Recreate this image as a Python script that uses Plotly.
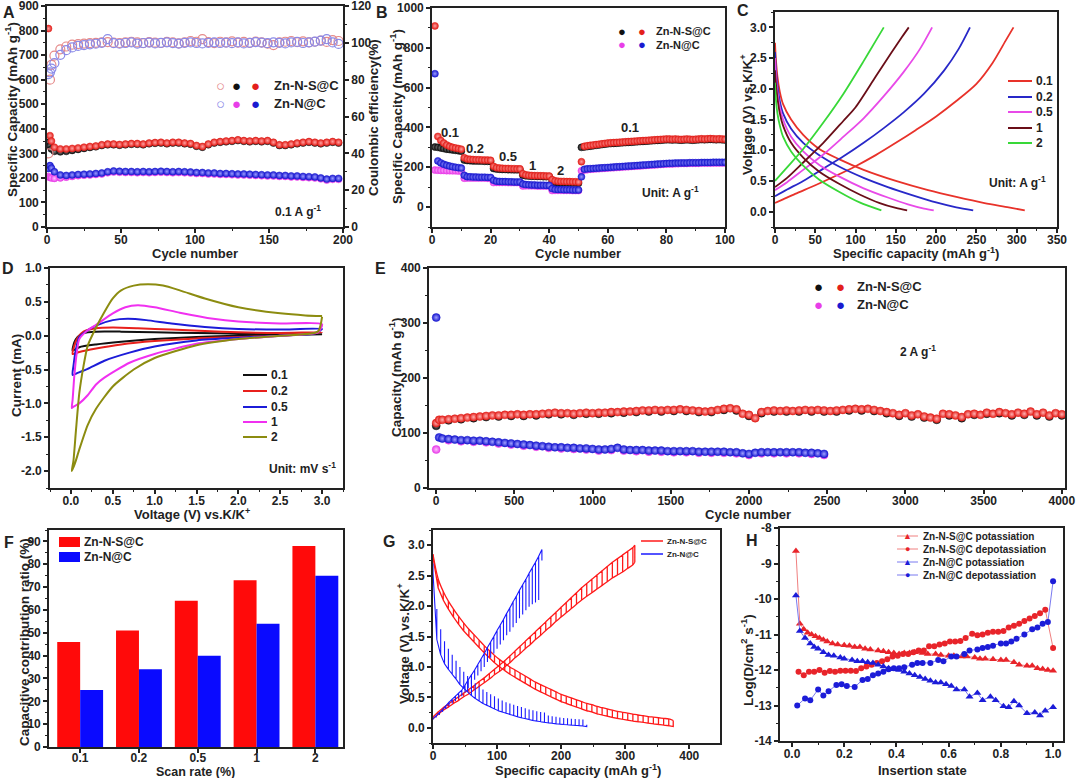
import plotly.graph_objects as go

W, H = 1080, 778
FONT = "Liberation Sans, Arial, sans-serif"
AX = "#222222"

# ---------------- DATA ----------------
# A: cycling at 0.1 A/g
cycA = [1, 2, 3] + list(range(5, 201, 4))
capA_NSC_dis = [808, 372, 350,
                325, 318, 318, 320, 322, 325, 328, 330, 335, 338,
                338, 336, 338, 340, 340, 338, 342, 344, 345, 342,
                345, 345, 342, 340, 332, 328, 338, 345, 348, 350,
                352, 355, 352, 350, 352, 350, 352, 345, 335, 335,
                338, 342, 345, 348, 345, 342, 345, 348, 345]
capA_NSC_chg = [345, 330, 318,
                308, 306, 308, 312, 316, 320, 324, 327, 332, 335,
                335, 333, 335, 337, 337, 335, 339, 341, 342, 339,
                342, 342, 339, 337, 329, 325, 335, 342, 345, 347,
                349, 352, 349, 347, 349, 347, 349, 342, 332, 332,
                335, 339, 342, 345, 342, 339, 342, 345, 342]
capA_NC_dis = [238, 250, 240,
               225, 212, 210, 212, 214, 215, 216, 218, 220, 225,
               228, 227, 226, 226, 225, 226, 225, 226, 227, 226,
               225, 226, 225, 224, 222, 222, 220, 220, 218, 218,
               217, 216, 216, 215, 214, 213, 212, 212, 210, 210,
               208, 208, 206, 205, 204, 200, 195, 198, 198]
capA_NC_chg = [205, 202, 200,
               198, 200, 203, 206, 209, 211, 212, 214, 216, 221,
               224, 223, 222, 222, 221, 222, 221, 222, 223, 222,
               221, 222, 221, 220, 218, 218, 216, 216, 214, 214,
               213, 212, 212, 211, 210, 209, 208, 208, 206, 206,
               204, 204, 202, 201, 200, 196, 191, 194, 194]
ceA_NSC = [40, 80, 88,
           93, 96.5, 98, 99, 99.3, 99.6, 99.8, 100.0, 100.2, 100.4,
           100.1, 99.9, 100.3, 100.6, 100.2, 99.8, 100.4, 100.1, 99.9, 100.5,
           100.2, 99.7, 100.3, 101.0, 100.6, 102.0, 100.4, 99.8, 100.6, 100.2,
           100.8, 100.1, 100.5, 100.0, 100.7, 100.3, 99.6, 98.8, 100.2, 100.6,
           101.0, 100.4, 100.8, 100.2, 100.6, 101.2, 100.5, 101.5, 101.0]
ceA_NC = [83, 84, 86,
          89, 93.5, 96, 97.5, 98.3, 98.8, 99.2, 99.5, 100.0, 102.0,
          99.8, 99.5, 99.9, 100.2, 99.6, 99.9, 100.1, 99.7, 100.0, 100.3,
          99.8, 99.6, 100.0, 100.2, 99.9, 99.7, 100.0, 100.3, 99.9, 100.1,
          99.8, 100.2, 99.7, 100.0, 100.4, 100.1, 99.8, 100.3, 100.0, 99.7,
          100.2, 100.5, 99.9, 100.3, 100.7, 101.2, 102.0, 100.2, 99.4]

# B: rate performance
cycB = list(range(1, 101))
capB_NSC_dis = [910, 355, 335, 322, 312, 305, 300, 297, 294, 291,
                248, 242, 240, 239, 238, 238, 237, 236, 236, 235,
                205, 198, 196, 195, 194, 194, 193, 193, 192, 192,
                168, 162, 160, 159, 158, 158, 157, 157, 156, 156,
                138, 132, 130, 129, 129, 128, 128, 127, 127, 126,
                228, 305, 308, 310, 312, 314, 316, 318, 320, 322,
                323, 324, 325, 326, 327, 328, 329, 330, 331, 332,
                333, 334, 335, 336, 337, 338, 339, 340, 341, 342,
                342, 341, 342, 341, 340, 341, 342, 341, 340, 341,
                342, 343, 342, 343, 344, 343, 342, 343, 342, 341]
capB_NSC_chg = [302, 300, 297, 294, 291, 289, 287, 285, 283, 281,
                236, 234, 233, 232, 232, 231, 231, 230, 230, 229,
                194, 191, 190, 189, 189, 188, 188, 187, 187, 187,
                160, 157, 156, 155, 155, 154, 154, 153, 153, 153,
                126, 124, 123, 122, 122, 122, 121, 121, 121, 120,
                300, 302, 304, 306, 308, 310, 312, 314, 316, 318,
                319, 320, 321, 322, 323, 324, 325, 326, 327, 328,
                329, 330, 331, 332, 333, 334, 335, 336, 337, 338,
                338, 337, 338, 337, 336, 337, 338, 337, 336, 337,
                338, 339, 338, 339, 340, 339, 338, 339, 338, 337]
capB_NC_dis = [670, 232, 222, 215, 210, 206, 203, 200, 198, 196,
               160, 153, 152, 151, 151, 150, 150, 150, 149, 149,
               135, 130, 129, 128, 128, 127, 127, 126, 126, 126,
               116, 113, 112, 111, 111, 110, 110, 110, 109, 109,
               93, 89, 88, 88, 87, 87, 87, 86, 86, 86,
               152, 190, 192, 193, 194, 195, 196, 197, 198, 199,
               200, 201, 202, 203, 204, 205, 206, 207, 208, 209,
               210, 211, 212, 213, 214, 215, 216, 217, 218, 219,
               220, 220, 221, 221, 222, 222, 222, 223, 223, 223,
               223, 224, 224, 224, 224, 225, 225, 225, 225, 225]
capB_NC_chg = [186, 185, 184, 184, 183, 183, 182, 182, 181, 181,
               145, 146, 146, 146, 146, 146, 146, 146, 145, 145,
               123, 124, 124, 124, 124, 123, 123, 123, 123, 123,
               106, 107, 107, 107, 107, 106, 106, 106, 106, 106,
               83, 84, 84, 84, 84, 84, 84, 83, 83, 83,
               182, 186, 188, 190, 191, 192, 193, 194, 195, 196,
               197, 198, 199, 200, 201, 202, 203, 204, 205, 206,
               207, 208, 209, 210, 211, 212, 213, 214, 215, 216,
               217, 217, 218, 218, 219, 219, 219, 220, 220, 220,
               220, 221, 221, 221, 221, 222, 222, 222, 222, 222]
rate_labels_B = ["0.1", "0.2", "0.5", "1", "2", "0.1"]

# C: charge/discharge profiles at different current densities
rates_C = ["0.1", "0.2", "0.5", "1", "2"]
C_dis_q = [[0, 1, 3, 6, 10, 20, 35, 55, 80, 110, 150, 190, 225, 260, 290, 310],
           [0, 1, 3, 6, 10, 20, 35, 55, 80, 110, 140, 170, 200, 225, 246],
           [0, 1, 3, 6, 10, 20, 35, 55, 80, 110, 140, 165, 185, 197],
           [0, 1, 3, 6, 10, 20, 35, 55, 80, 105, 130, 150, 164],
           [0, 1, 3, 6, 10, 20, 35, 55, 80, 105, 132]]
C_dis_v = [[2.75, 2.5, 2.2, 1.95, 1.75, 1.5, 1.25, 1.02, 0.85, 0.68, 0.5, 0.35, 0.24, 0.14, 0.07, 0.02],
           [2.6, 2.35, 2.05, 1.8, 1.6, 1.35, 1.12, 0.92, 0.73, 0.55, 0.4, 0.27, 0.15, 0.07, 0.02],
           [2.5, 2.25, 1.95, 1.7, 1.5, 1.22, 0.98, 0.76, 0.57, 0.38, 0.23, 0.12, 0.05, 0.02],
           [2.3, 2.1, 1.85, 1.6, 1.4, 1.12, 0.88, 0.65, 0.45, 0.28, 0.14, 0.06, 0.02],
           [2.1, 1.85, 1.6, 1.4, 1.22, 0.98, 0.75, 0.52, 0.32, 0.15, 0.02]]
C_chg_q = [[0, 10, 25, 50, 75, 100, 125, 150, 175, 200, 225, 250, 270, 287, 296],
           [0, 15, 35, 60, 85, 110, 135, 160, 185, 210, 228, 242],
           [0, 15, 35, 60, 85, 110, 135, 160, 180, 195],
           [0, 15, 35, 60, 85, 100, 125, 145, 158, 166],
           [0, 15, 35, 60, 85, 110, 125, 135]]
C_chg_v = [[0.14, 0.2, 0.29, 0.43, 0.58, 0.74, 0.92, 1.12, 1.33, 1.55, 1.8, 2.08, 2.42, 2.8, 3.0],
           [0.25, 0.36, 0.5, 0.7, 0.9, 1.12, 1.36, 1.62, 1.92, 2.3, 2.65, 3.0],
           [0.35, 0.48, 0.68, 0.93, 1.22, 1.52, 1.88, 2.28, 2.65, 3.0],
           [0.4, 0.55, 0.8, 1.12, 1.48, 1.7, 2.2, 2.6, 2.85, 3.0],
           [0.5, 0.72, 1.02, 1.45, 1.92, 2.45, 2.78, 3.0]]

# D: CV curves at different scan rates
rates_D = ["0.1", "0.2", "0.5", "1", "2"]
D_v = [[3.0, 2.5, 2.0, 1.5, 1.0, 0.6, 0.3, 0.1, 0.02, 0.04, 0.08, 0.15, 0.3, 0.6, 1.0, 1.5, 2.0, 2.5, 3.0],
       [3.0, 2.5, 2.0, 1.5, 1.0, 0.6, 0.3, 0.1, 0.02, 0.04, 0.08, 0.15, 0.3, 0.5, 0.8, 1.2, 1.6, 2.0, 2.5, 3.0],
       [3.0, 2.9, 2.5, 2.0, 1.5, 1.0, 0.7, 0.4, 0.2, 0.08, 0.02, 0.03, 0.06, 0.1, 0.2, 0.3, 0.5, 0.68, 0.9, 1.2, 1.6, 2.0, 2.5, 3.0],
       [3.0, 2.95, 2.5, 2.0, 1.5, 1.0, 0.7, 0.4, 0.3, 0.2, 0.1, 0.03, 0.01, 0.02, 0.04, 0.07, 0.1, 0.2, 0.3, 0.5, 0.65, 0.8, 1.0, 1.3, 1.7, 2.0, 2.5, 3.0],
       [3.0, 2.95, 2.5, 2.0, 1.5, 1.0, 0.75, 0.5, 0.3, 0.2, 0.1, 0.05, 0.01, 0.03, 0.06, 0.1, 0.15, 0.2, 0.3, 0.4, 0.5, 0.6, 0.75, 0.92, 1.1, 1.3, 1.6, 2.0, 2.5, 2.8, 3.0]]
D_i = [[0.02, 0.01, 0.0, -0.02, -0.05, -0.09, -0.13, -0.17, -0.22, -0.1, -0.02, 0.04, 0.06, 0.06, 0.05, 0.04, 0.03, 0.02, 0.02],
       [0.05, 0.0, -0.02, -0.04, -0.08, -0.13, -0.19, -0.24, -0.27, -0.15, -0.03, 0.06, 0.11, 0.12, 0.11, 0.09, 0.07, 0.05, 0.04, 0.05],
       [0.1, 0.03, 0.0, -0.03, -0.07, -0.16, -0.25, -0.37, -0.49, -0.55, -0.58, -0.45, -0.2, -0.02, 0.08, 0.15, 0.23, 0.25, 0.23, 0.18, 0.13, 0.1, 0.09, 0.1],
       [0.17, 0.05, 0.0, -0.05, -0.12, -0.27, -0.4, -0.62, -0.72, -0.88, -1.0, -1.05, -1.07, -0.95, -0.6, -0.25, -0.05, 0.08, 0.16, 0.33, 0.42, 0.45, 0.42, 0.34, 0.25, 0.21, 0.18, 0.17],
       [0.28, 0.06, 0.0, -0.05, -0.14, -0.33, -0.5, -0.75, -1.08, -1.32, -1.68, -1.88, -2.0, -1.85, -1.4, -0.85, -0.45, -0.15, 0.12, 0.35, 0.55, 0.67, 0.74, 0.76, 0.74, 0.67, 0.55, 0.42, 0.33, 0.3, 0.29]]

# E: long cycling at 2 A/g
cycE_NSC = [1, 20] + list(range(40, 4001, 40))
capE_NSC_dis = [118, 124,
                124, 125, 126, 127, 128, 129, 130, 131, 132, 132,
                133, 133, 134, 133, 134, 134, 135, 136, 137, 136,
                136, 135, 136, 137, 136, 137, 137, 138, 138, 139,
                139, 140, 141, 141, 142, 141, 142, 142, 143, 142,
                141, 140, 139, 140, 142, 144, 145, 143, 135, 133,
                127, 138, 140, 141, 140, 141, 140, 141, 142, 141,
                142, 141, 140, 141, 142, 143, 144, 143, 144, 142,
                140, 138, 136, 133, 136, 132, 134, 130, 128, 126,
                135, 134, 132, 129, 134, 135, 133, 137, 135, 138,
                136, 134, 137, 135, 139, 134, 137, 132, 136, 134]
cycE_NSC_c = [1] + list(range(80, 4001, 80))
capE_NSC_chg = [113,
                123, 125, 127, 129, 130, 131, 131, 132, 134, 134,
                133, 135, 135, 136, 137, 138, 139, 139, 140, 140,
                138, 138, 142, 141, 131, 136, 139, 139, 139, 139,
                139, 139, 141, 141, 140, 136, 131, 130, 128, 124,
                132, 127, 133, 135, 136, 132, 133, 132, 130, 132]
cycE_NC = [1, 20] + list(range(40, 2481, 40))
capE_NC_dis = [310, 92,
               90, 89, 88, 87, 87, 86, 86, 85, 84, 83,
               82, 81, 80, 79, 78, 77, 76, 75, 74, 74,
               73, 73, 72, 72, 71, 70, 70, 71, 73, 70,
               69, 69, 69, 68, 68, 68, 67, 67, 67, 67,
               67, 66, 66, 66, 66, 66, 65, 65, 63, 62,
               64, 65, 65, 65, 65, 65, 65, 65, 64, 64,
               63, 62]
cycE_NC_c = [1] + list(range(80, 2481, 80))
capE_NC_chg = [70,
               87, 85, 84, 83, 81, 79, 77, 75, 73, 72,
               71, 70, 68, 69, 68, 67, 66, 66, 65, 65,
               64, 64, 64, 63, 60, 63, 63, 63, 63, 62,
               60]

# F: capacitive contribution
scan_rates_F = ["0.1", "0.2", "0.5", "1", "2"]
capF_NSC = [46, 51, 64, 73, 88]
capF_NC = [25, 34, 40, 54, 75]

# G: GITT profiles (pulse positions, pulse-end and relaxed voltages)
G_NSC_dis_q = list(range(0, 369, 8)) + [375]
G_NSC_dis_lo = [2.80, 2.30, 2.10, 1.95, 1.82, 1.70, 1.59, 1.50, 1.41, 1.32,
                1.23, 1.15, 1.07, 1.00, 0.94, 0.88, 0.83, 0.78, 0.73, 0.68,
                0.63, 0.59, 0.55, 0.51, 0.47, 0.43, 0.40, 0.37, 0.34, 0.31,
                0.28, 0.26, 0.23, 0.21, 0.19, 0.17, 0.155, 0.14, 0.125, 0.11,
                0.10, 0.09, 0.075, 0.065, 0.055, 0.045, 0.035, 0.02]
G_NSC_dis_hi = [2.85, 2.45, 2.24, 2.08, 1.95, 1.83, 1.72, 1.62, 1.53, 1.44,
                1.35, 1.27, 1.19, 1.12, 1.06, 1.00, 0.95, 0.90, 0.85, 0.80,
                0.75, 0.71, 0.67, 0.63, 0.59, 0.55, 0.52, 0.49, 0.46, 0.43,
                0.40, 0.38, 0.35, 0.33, 0.31, 0.29, 0.27, 0.255, 0.24, 0.225,
                0.21, 0.20, 0.185, 0.175, 0.165, 0.155, 0.145, 0.12]
G_NSC_chg_q = list(range(0, 313, 8)) + [315]
G_NSC_chg_hi = [0.18, 0.26, 0.33, 0.39, 0.45, 0.51, 0.57, 0.63, 0.69, 0.76,
                0.82, 0.89, 0.96, 1.03, 1.10, 1.18, 1.26, 1.34, 1.42, 1.50,
                1.58, 1.66, 1.74, 1.82, 1.90, 1.98, 2.06, 2.14, 2.22, 2.30,
                2.37, 2.44, 2.51, 2.58, 2.65, 2.72, 2.78, 2.84, 2.90, 2.96, 3.0]
G_NSC_chg_lo = [0.15, 0.22, 0.29, 0.34, 0.40, 0.45, 0.51, 0.56, 0.62, 0.68,
                0.74, 0.80, 0.87, 0.93, 1.00, 1.07, 1.15, 1.22, 1.30, 1.37,
                1.45, 1.52, 1.60, 1.67, 1.75, 1.82, 1.89, 1.96, 2.03, 2.10,
                2.16, 2.22, 2.28, 2.34, 2.40, 2.46, 2.51, 2.56, 2.62, 2.68, 2.72]
G_NC_dis_q = list(range(0, 235, 6)) + [240]
G_NC_dis_lo = [2.55, 1.45, 1.2, 1.05, 0.96, 0.88, 0.8, 0.71, 0.65, 0.59,
               0.53, 0.48, 0.44, 0.40, 0.37, 0.34, 0.31, 0.28, 0.26, 0.24,
               0.22, 0.2, 0.18, 0.165, 0.15, 0.135, 0.12, 0.11, 0.1, 0.09,
               0.08, 0.075, 0.065, 0.06, 0.055, 0.05, 0.045, 0.04, 0.035, 0.03, 0.02]
G_NC_dis_hi = [2.7, 1.95, 1.62, 1.42, 1.3, 1.2, 1.1, 1.0, 0.92, 0.85,
               0.79, 0.73, 0.68, 0.63, 0.59, 0.55, 0.52, 0.48, 0.45, 0.42,
               0.4, 0.38, 0.36, 0.34, 0.32, 0.3, 0.29, 0.27, 0.26, 0.25,
               0.2, 0.19, 0.18, 0.17, 0.16, 0.155, 0.15, 0.145, 0.14, 0.135, 0.05]
G_NC_chg_q = list(range(0, 166, 5)) + [170]
G_NC_chg_hi = [0.15, 0.2, 0.25, 0.3, 0.36, 0.42, 0.47, 0.52, 0.57, 0.62,
               0.7, 0.79, 0.87, 0.95, 1.04, 1.13, 1.22, 1.32, 1.41, 1.5,
               1.6, 1.69, 1.78, 1.88, 1.97, 2.07, 2.16, 2.26, 2.35, 2.44,
               2.54, 2.63, 2.72, 2.82, 2.93]
G_NC_chg_lo = [0.13, 0.17, 0.21, 0.26, 0.31, 0.36, 0.4, 0.44, 0.48, 0.52,
               0.58, 0.65, 0.72, 0.79, 0.86, 0.93, 1.0, 1.08, 1.15, 1.22,
               1.3, 1.37, 1.44, 1.52, 1.58, 1.65, 1.72, 1.8, 1.86, 1.93,
               1.99, 2.03, 2.06, 2.1, 2.75]

# H: diffusion coefficients
H_NSC_pot_x = [0.015, 0.03, 0.045, 0.06, 0.075, 0.09, 0.105, 0.12, 0.135, 0.155,
               0.175, 0.2, 0.22, 0.24, 0.26, 0.28, 0.3, 0.33, 0.35, 0.37,
               0.39, 0.41, 0.43, 0.45, 0.47, 0.5, 0.52, 0.55, 0.57, 0.6,
               0.62, 0.65, 0.67, 0.7, 0.72, 0.74, 0.77, 0.8, 0.82, 0.85,
               0.87, 0.9, 0.92, 0.94, 0.96, 0.98, 1.0]
H_NSC_pot_y = [-8.65, -10.7, -10.85, -10.95, -11.0, -11.05, -11.1, -11.15, -11.2, -11.25,
               -11.28, -11.3, -11.32, -11.35, -11.35, -11.4, -11.42, -11.45, -11.47, -11.5,
               -11.52, -11.55, -11.52, -11.52, -11.5, -11.52, -11.55, -11.55, -11.58, -11.6,
               -11.6, -11.62, -11.62, -11.65, -11.68, -11.68, -11.7, -11.72, -11.72, -11.78,
               -11.85, -11.88, -11.88, -11.95, -11.97, -12.0, -12.02]
H_NSC_dep_x = [0.025, 0.045, 0.065, 0.085, 0.105, 0.125, 0.145, 0.165, 0.185, 0.205,
               0.225, 0.245, 0.265, 0.285, 0.305, 0.325, 0.345, 0.365, 0.385, 0.405,
               0.425, 0.445, 0.465, 0.485, 0.505, 0.525, 0.545, 0.565, 0.585, 0.605,
               0.625, 0.645, 0.665, 0.69, 0.71, 0.73, 0.75, 0.77, 0.79, 0.81,
               0.83, 0.85, 0.87, 0.89, 0.91, 0.93, 0.95, 0.97, 1.0]
H_NSC_dep_y = [-12.05, -12.15, -12.05, -12.05, -12.0, -12.08, -12.03, -12.05, -12.02, -12.02,
               -12.02, -12.03, -11.95, -11.9, -11.85, -11.8, -11.75, -11.7, -11.62, -11.6,
               -11.55, -11.55, -11.5, -11.45, -11.45, -11.33, -11.33, -11.28, -11.25, -11.2,
               -11.2, -11.18, -11.1, -10.98, -11.02, -11.0, -10.95, -10.92, -10.92, -10.9,
               -10.8, -10.75, -10.7, -10.62, -10.55, -10.48, -10.4, -10.3, -11.38]
H_NC_pot_x = [0.015, 0.03, 0.05, 0.07, 0.085, 0.1, 0.12, 0.14, 0.16, 0.185,
              0.2, 0.23, 0.25, 0.27, 0.29, 0.31, 0.33, 0.35, 0.37, 0.39,
              0.41, 0.43, 0.45, 0.47, 0.49, 0.51, 0.53, 0.55, 0.57, 0.59,
              0.61, 0.63, 0.66, 0.68, 0.71, 0.73, 0.76, 0.78, 0.81, 0.83,
              0.85, 0.87, 0.9, 0.93, 0.95, 0.97, 1.0]
H_NC_pot_y = [-9.9, -10.9, -11.1, -11.25, -11.35, -11.4, -11.5, -11.58, -11.6, -11.65,
              -11.68, -11.72, -11.75, -11.75, -11.78, -11.8, -11.85, -11.9, -11.95, -11.98,
              -12.0, -12.05, -12.1, -12.15, -12.2, -12.25, -12.3, -12.35, -12.35, -12.4,
              -12.45, -12.55, -12.55, -12.75, -12.65, -12.85, -12.75, -12.85, -13.02, -13.05,
              -12.88, -13.0, -13.22, -13.2, -13.28, -13.15, -13.05]
H_NC_dep_x = [0.02, 0.05, 0.07, 0.1, 0.12, 0.14, 0.17, 0.19, 0.21, 0.24,
              0.27, 0.29, 0.31, 0.33, 0.35, 0.37, 0.39, 0.41, 0.43, 0.46,
              0.48, 0.5, 0.53, 0.56, 0.58, 0.61, 0.63, 0.66, 0.68, 0.71,
              0.73, 0.75, 0.77, 0.8, 0.82, 0.84, 0.86, 0.89, 0.92, 0.94,
              0.96, 0.98, 1.0]
H_NC_dep_y = [-13.0, -12.8, -12.85, -12.55, -12.72, -12.6, -12.42, -12.4, -12.45, -12.48,
              -12.28, -12.25, -12.15, -12.1, -12.05, -11.98, -11.95, -11.95, -11.92, -11.85,
              -11.8, -11.8, -11.8, -11.72, -11.75, -11.62, -11.62, -11.55, -11.45, -11.42,
              -11.38, -11.35, -11.32, -11.25, -11.25, -11.2, -11.12, -11.0, -10.85, -10.8,
              -10.7, -10.65, -9.5]
H_names = ["Zn-N-S@C potassiation", "Zn-N-S@C depotassiation",
           "Zn-N@C potassiation", "Zn-N@C depotassiation"]

# ---------------- STYLE HELPERS ----------------
RED, BLACK, PINK, BLUE = "#e3201b", "#111111", "#e83ee8", "#1a1ad0"
TF = dict(family=FONT, size=12, color=AX, weight="bold")


def base(rng, dtick, mdtick, **kw):
    d = dict(range=rng, dtick=dtick, tick0=0, showline=True, linecolor=AX, linewidth=1.7,
             mirror=True, ticks="outside", ticklen=4, tickwidth=1.5, tickcolor=AX,
             minor=dict(ticks="outside", ticklen=2.5, tickwidth=1.2, tickcolor=AX,
                        dtick=mdtick, tick0=0, showgrid=False),
             showgrid=False, zeroline=False, tickfont=TF, fixedrange=True,
             automargin=False, ticklabeloverflow="allow")
    d.update(kw)
    return d


def xax(x0, x1, anchor, rng, dtick, mdtick, standoff=-3, **kw):
    d = base(rng, dtick, mdtick, ticklabelstandoff=standoff, **kw)
    d.update(domain=[x0 / W, x1 / W], anchor=anchor)
    return d


def yax(y0, y1, anchor, rng, dtick, mdtick, **kw):
    d = base(rng, dtick, mdtick, **kw)
    d.update(domain=[1 - y1 / H, 1 - y0 / H], anchor=anchor)
    return d


def ann(x, y, text, size=12, color=AX, angle=0, xanchor="center"):
    return dict(x=x / W, y=1 - y / H, xref="paper", yref="paper", text=text,
                showarrow=False, textangle=angle, xanchor=xanchor, yanchor="middle",
                font=dict(family=FONT, size=size, color=color, weight="bold"))


def key_line(x0, x1, y, color, width=2):
    return dict(type="line", xref="paper", yref="paper", x0=x0 / W, x1=x1 / W,
                y0=1 - y / H, y1=1 - y / H, line=dict(color=color, width=width))


def key_rect(x0, x1, y0, y1, color):
    return dict(type="rect", xref="paper", yref="paper", x0=x0 / W, x1=x1 / W,
                y0=1 - y1 / H, y1=1 - y0 / H, fillcolor=color, line=dict(width=0))


def ball(color, center, size=7):
    return dict(symbol="circle", size=size, color=color,
                gradient=dict(type="radial", color=center),
                line=dict(width=0.5, color=color))


fig = go.Figure()

# ---------------- A ----------------
fig.add_trace(go.Scatter(x=cycA, y=ceA_NSC, xaxis="x", yaxis="y2", mode="markers",
                         marker=dict(symbol="circle-open", size=9, color="#e58a8a", line=dict(width=1.2))))
fig.add_trace(go.Scatter(x=cycA, y=ceA_NC, xaxis="x", yaxis="y2", mode="markers",
                         marker=dict(symbol="circle-open", size=9, color="#8a8ae8", line=dict(width=1.2))))
for ys, col, cen in [(capA_NSC_chg, BLACK, "#8a8a8a"), (capA_NSC_dis, RED, "#ffa0a0"),
                     (capA_NC_chg, PINK, "#ffc0ff"), (capA_NC_dis, BLUE, "#9a9aff")]:
    fig.add_trace(go.Scatter(x=cycA, y=ys, xaxis="x", yaxis="y", mode="markers",
                             marker=ball(col, cen, 7)))

# ---------------- B ----------------
for ys, col, cen in [(capB_NSC_chg, BLACK, "#8a8a8a"), (capB_NSC_dis, RED, "#ffa0a0"),
                     (capB_NC_chg, PINK, "#ffc0ff"), (capB_NC_dis, BLUE, "#9a9aff")]:
    fig.add_trace(go.Scatter(x=cycB, y=ys, xaxis="x2", yaxis="y3", mode="markers",
                             marker=ball(col, cen, 7)))

# ---------------- C ----------------
colC = ["#e8322a", "#2828c8", "#e84ae8", "#6a0e18", "#38d838"]
for k, r in enumerate(rates_C):
    for qq, vv in [(C_dis_q[k], C_dis_v[k]), (C_chg_q[k], C_chg_v[k])]:
        fig.add_trace(go.Scatter(x=qq, y=vv, xaxis="x3", yaxis="y4", mode="lines", name=r,
                                 line=dict(color=colC[k], width=1.8, shape="spline", smoothing=0.8)))

# ---------------- D ----------------
colD = ["#111111", "#e8201c", "#1c1cd8", "#f030f0", "#8c8c10"]
for k, r in enumerate(rates_D):
    fig.add_trace(go.Scatter(x=D_v[k], y=D_i[k], xaxis="x4", yaxis="y5", mode="lines", name=r,
                             line=dict(color=colD[k], width=2, shape="spline", smoothing=0.6)))

# ---------------- E ----------------
fig.add_trace(go.Scatter(x=cycE_NSC_c, y=capE_NSC_chg, xaxis="x5", yaxis="y6", mode="markers",
                         marker=ball(BLACK, "#8a8a8a", 8)))
fig.add_trace(go.Scatter(x=cycE_NSC, y=capE_NSC_dis, xaxis="x5", yaxis="y6", mode="markers",
                         marker=ball(RED, "#ffb0b0", 8)))
fig.add_trace(go.Scatter(x=cycE_NC_c, y=capE_NC_chg, xaxis="x5", yaxis="y6", mode="markers",
                         marker=ball(PINK, "#ffc0ff", 8)))
fig.add_trace(go.Scatter(x=cycE_NC, y=capE_NC_dis, xaxis="x5", yaxis="y6", mode="markers",
                         marker=ball(BLUE, "#a0a0ff", 8)))

# ---------------- F ----------------
fig.add_trace(go.Bar(x=scan_rates_F, y=capF_NSC, xaxis="x6", yaxis="y7", name="Zn-N-S@C",
                     marker=dict(color="#ff0a0a", line=dict(width=0))))
fig.add_trace(go.Bar(x=scan_rates_F, y=capF_NC, xaxis="x6", yaxis="y7", name="Zn-N@C",
                     marker=dict(color="#0a0aff", line=dict(width=0))))


# ---------------- G ----------------
def gitt(q, env, rel):
    xs, ys = [], []
    for a, e, r in zip(q, env, rel):
        xs += [a, a, a]
        ys += [e, r, e]
    return xs, ys


GR, GB = "#ff1a1a", "#1a1aff"
for (q, e, r, col, relax_line) in [
        (G_NSC_dis_q, G_NSC_dis_lo, G_NSC_dis_hi, GR, True),
        (G_NSC_chg_q, G_NSC_chg_hi, G_NSC_chg_lo, GR, True),
        (G_NC_dis_q, G_NC_dis_lo, G_NC_dis_hi, GB, False),
        (G_NC_chg_q, G_NC_chg_hi, G_NC_chg_lo, GB, False)]:
    xs, ys = gitt(q, e, r)
    fig.add_trace(go.Scatter(x=xs, y=ys, xaxis="x7", yaxis="y8", mode="lines",
                             line=dict(color=col, width=1.3 if relax_line else 1.1)))
    if relax_line:
        fig.add_trace(go.Scatter(x=q, y=r, xaxis="x7", yaxis="y8", mode="lines",
                                 line=dict(color=col, width=1.3, shape="spline")))

# ---------------- H ----------------
HR, HRL, HB, HBL = "#e8242a", "#f08080", "#1c1cd8", "#7a7af0"
for (xs, ys, sym, sz, mcol, lcol, nm) in [
        (H_NSC_pot_x, H_NSC_pot_y, "triangle-up", 7, HR, HRL, H_names[0]),
        (H_NSC_dep_x, H_NSC_dep_y, "circle", 6, HR, HRL, H_names[1]),
        (H_NC_pot_x, H_NC_pot_y, "triangle-up", 7, HB, HBL, H_names[2]),
        (H_NC_dep_x, H_NC_dep_y, "circle", 6, HB, HBL, H_names[3])]:
    fig.add_trace(go.Scatter(x=xs, y=ys, xaxis="x8", yaxis="y9", mode="lines+markers", name=nm,
                             line=dict(color=lcol, width=1), marker=dict(symbol=sym, size=sz, color=mcol)))

# ---------------- LAYOUT ----------------
lay = dict(template="none", width=W, height=H, margin=dict(l=0, r=0, t=0, b=0, autoexpand=False),
           paper_bgcolor="white", plot_bgcolor="white", barmode="group", showlegend=False,
           bargap=0.22, bargroupgap=0, font=dict(family=FONT, color=AX))

# A
lay["xaxis"] = xax(47, 343, "y", [0, 200], 50, 25)
lay["yaxis"] = yax(6, 227, "x", [0, 900], 100, 50)
lay["yaxis2"] = yax(6, 227, "x", [0, 120], 20, 10, overlaying="y", side="right", mirror=False)
# B
lay["xaxis2"] = xax(432, 725, "y3", [0, 100], 20, 10)
lay["yaxis3"] = yax(8, 227, "x2", [-100, 1000], 200, 100)
# C
lay["xaxis3"] = xax(775, 1057, "y4", [0, 350], 50, 25)
lay["yaxis4"] = yax(12, 227, "x3", [-0.25, 3.25], 0.5, 0.25, tickformat=".1f")
# D
lay["xaxis4"] = xax(50, 343, "y5", [-0.25, 3.25], 0.5, 0.25, tickformat=".1f")
lay["yaxis5"] = yax(268, 488, "x4", [-2.25, 1.0], 0.5, 0.25, tickmode="array",
                    tickvals=[-2, -1.5, -1, -0.5, 0, 0.5, 1],
                    ticktext=["-2.0", "-1.5", "-1.0", "-0.5", "0.0", "0.5", "1.0"])
# E
lay["xaxis5"] = xax(429, 1065, "y6", [-45, 4020], 500, 250)
lay["yaxis6"] = yax(268, 488, "x5", [0, 400], 100, 50)
# F
fx = xax(49, 343, "y7", [-0.53, 4.47], None, None, standoff=-5, type="category",
         categoryorder="array", categoryarray=scan_rates_F)
fx.pop("dtick"); fx.pop("tick0"); fx.pop("minor")
lay["xaxis6"] = fx
lay["yaxis7"] = yax(530, 747, "x6", [0, 95], 10, 5)
# G
lay["xaxis7"] = xax(433, 720, "y8", [0, 448], 100, 50)
lay["yaxis8"] = yax(530, 743, "x7", [-0.25, 3.25], 0.5, 0.25, tickformat=".1f")
# H
lay["xaxis8"] = xax(780, 1063, "y9", [-0.046, 1.038], 0.2, 0.1, tickformat=".1f")
lay["yaxis9"] = yax(528, 741, "x8", [-14, -8], 1, 0.5, tickmode="array",
                    tickvals=[-14, -13, -12, -11, -10, -9, -8],
                    ticktext=["-14", "-13", "-12", "-11", "-10", "-9", "-8"])

g1 = "<sup>-1</sup>"
TS = 13.5
TX = 13
anns = [
    # panel letters
    ann(9, 12, "A", 16), ann(382, 12, "B", 16), ann(743, 10, "C", 16),
    ann(8, 268, "D", 16), ann(380, 268, "E", 16), ann(9, 542, "F", 16),
    ann(389, 541, "G", 16), ann(752, 540, "H", 16),
    # axis titles
    ann(11, 110, "Specific Capacity (mAh g" + g1 + ")", TS, angle=-90),
    ann(373, 118, "Coulombic efficiency(%)", TS, angle=-90),
    ann(195, 253, "Cycle number", TX),
    ann(396, 117, "Specific Capacity (mAh g" + g1 + ")", TS, angle=-90),
    ann(578, 253, "Cycle number", TX),
    ann(746, 115, "Voltage (V) vs.K/K<sup>+</sup>", TS, angle=-90),
    ann(916, 253, "Specific capacity (mAh g" + g1 + ")", TX),
    ann(16, 376, "Current (mA)", TS, angle=-90),
    ann(192, 514, "Voltage (V) vs.K/K<sup>+</sup>", TX),
    ann(395, 378, "Capacity (mAh g" + g1 + ")", TS, angle=-90),
    ann(748, 514, "Cycle number", TX),
    ann(24, 642, "Capacitive contribution ratio (%)", TS, angle=-90),
    ann(195, 772, "Scan rate (%)", 12.5),
    ann(403, 644, "Voltage (V) vs.K/K<sup>+</sup>", TS, angle=-90),
    ann(578, 770, "Specific capacity (mAh g" + g1 + ")", TX),
    ann(747, 660, "Log(D/cm<sup>2</sup> s" + g1 + ")", TS, angle=-90),
    ann(922, 770, "Insertion state", TX),
    # in-plot notes
    ann(298, 211, "0.1 A g" + g1, 12),
    ann(670, 192, "Unit: A g" + g1, 12),
    ann(1017, 182, "Unit: A g" + g1, 12),
    ann(302, 468, "Unit: mV s" + g1, 12),
    ann(918, 351, "2 A g" + g1, 12),
]
# rate labels in B
for (xp, yp), t in zip([(450, 132), (475, 148), (508, 157), (532, 165), (560, 170), (630, 127)], rate_labels_B):
    anns.append(ann(xp, yp, t, 13))


# symbol legends (A, B, E)
def sym_row(items, tx, y, label, size, tsize):
    out = []
    for (sx, ch, col) in items:
        out.append(ann(sx, y, ch, size, color=col))
    out.append(ann(tx, y, label, tsize, xanchor="left"))
    return out


anns += sym_row([(220, "○", "#e58a8a"), (236, "●", BLACK), (255, "●", RED)], 272, 85, "Zn-N-S@C", 15, 13)
anns += sym_row([(220, "○", "#8a8ae8"), (236, "●", PINK), (255, "●", BLUE)], 272, 103, "Zn-N@C", 15, 13)
anns += sym_row([(622, "●", BLACK), (642, "●", RED)], 654, 31, "Zn-N-S@C", 13, 11)
anns += sym_row([(622, "●", PINK), (642, "●", BLUE)], 654, 45, "Zn-N@C", 13, 11)
anns += sym_row([(818, "●", BLACK), (840, "●", RED)], 855, 287, "Zn-N-S@C", 15, 13)
anns += sym_row([(818, "●", PINK), (840, "●", BLUE)], 855, 304, "Zn-N@C", 15, 13)

shapes = []
# C key
for k, yk in enumerate([81, 97, 112, 128, 143]):
    shapes.append(key_line(1008, 1032, yk, colC[k], 2))
    anns.append(ann(1034, yk, rates_C[k], 12, xanchor="left"))
# D key
for k, yk in enumerate([375, 391, 407, 422, 437]):
    shapes.append(key_line(243, 267, yk, colD[k], 2))
    anns.append(ann(269, yk, rates_D[k], 12, xanchor="left"))
# F key
for (y0, col, nm) in [(537, "#ff0a0a", "Zn-N-S@C"), (552, "#0a0aff", "Zn-N@C")]:
    shapes.append(key_rect(59, 80, y0, y0 + 10, col))
    anns.append(ann(82, y0 + 5, nm, 12, xanchor="left"))
# G key
for (yk, col, nm) in [(541, GR, "Zn-N-S@C"), (554, GB, "Zn-N@C")]:
    shapes.append(key_line(641, 663, yk, col, 1.5))
    anns.append(ann(665, yk, nm, 8, xanchor="left"))
# H key
for (yk, col, lcol, ch, nm) in [(536, HR, HRL, "▲", H_names[0]), (549, HR, HRL, "●", H_names[1]),
                               (562, HB, HBL, "▲", H_names[2]), (575, HB, HBL, "●", H_names[3])]:
    shapes.append(key_line(897, 918, yk, lcol, 1))
    anns.append(ann(907.5, yk, ch, 9, color=col))
    anns.append(ann(921, yk, nm, 10, xanchor="left"))

lay["annotations"] = anns
lay["shapes"] = shapes
fig.update_layout(**lay)
fig.write_html("out.html")
